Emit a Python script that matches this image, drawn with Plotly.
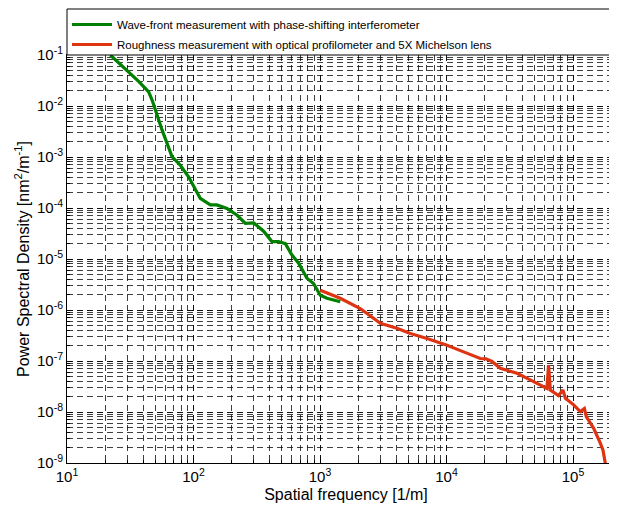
import plotly.graph_objects as go

# Wave-front measurement (phase-shifting interferometer)
wf_freq = [22, 30, 37, 44.2, 47, 56.4, 67.6, 78.7, 91.4, 113, 136, 153,
           184, 221, 257, 299, 358, 417, 471, 532, 600, 678, 789, 889,
           1005, 1135, 1280, 1445]
wf_psd = [1.0e-1, 4.9e-2, 3.0e-2, 1.9e-2, 1.32e-2, 3.4e-3, 1.02e-3,
          6.9e-4, 4.1e-4, 1.55e-4, 1.15e-4, 1.15e-4, 9.8e-5, 7.2e-5,
          5.0e-5, 5.1e-5, 3.5e-5, 2.2e-5, 2.2e-5, 2.0e-5, 1.2e-5, 8.3e-6,
          4.2e-6, 3.3e-6, 1.95e-6, 1.7e-6, 1.55e-6, 1.45e-6]

# Roughness measurement (optical profilometer, 5X Michelson lens)
rg_freq = [1005, 1445, 2080, 2500, 3000, 4055, 5176, 7015, 10090, 13650,
           18490, 20500, 22900, 26600, 36060, 45900, 58600, 62200, 64100,
           66200, 76900, 83200, 87100, 101200, 114300, 123000, 127400,
           145600, 164400, 172600, 179900, 183000]
rg_psd = [2.45e-6, 1.7e-6, 1.07e-6, 7.6e-7, 5.5e-7, 4.4e-7, 3.47e-7,
          2.75e-7, 2.04e-7, 1.51e-7, 1.12e-7, 1.1e-7, 9.8e-8, 7.2e-8,
          5.75e-8, 4.27e-8, 3.16e-8, 2.9e-8, 8.3e-8, 2.7e-8, 2.1e-8,
          2.7e-8, 1.86e-8, 1.38e-8, 1.02e-8, 1.17e-8, 8.1e-9, 4.8e-9,
          2.45e-9, 1.78e-9, 1.0e-9, 7.5e-10]

x_tickvals = [1e1, 1e2, 1e3, 1e4, 1e5]
x_ticktext = ["10<sup>1</sup>", "10<sup>2</sup>", "10<sup>3</sup>",
              "10<sup>4</sup>", "10<sup>5</sup>"]
y_tickvals = [1e-9, 1e-8, 1e-7, 1e-6, 1e-5, 1e-4, 1e-3, 1e-2, 1e-1]
y_ticktext = ["10<sup>-9</sup>", "10<sup>-8</sup>", "10<sup>-7</sup>",
              "10<sup>-6</sup>", "10<sup>-5</sup>", "10<sup>-4</sup>",
              "10<sup>-3</sup>", "10<sup>-2</sup>", "10<sup>-1</sup>"]

wf_name = "Wave-front measurement with phase-shifting interferometer"
rg_name = "Roughness measurement with optical profilometer and 5X Michelson lens"

FONT = "Liberation Sans, Arial, sans-serif"
GRID = "rgba(0,0,0,0.75)"

fig = go.Figure()
fig.add_trace(go.Scatter(x=wf_freq, y=wf_psd, mode="lines", name=wf_name,
                         legendgroup="a",
                         line=dict(color="rgb(0,128,0)", width=3.2)))
fig.add_trace(go.Scatter(x=rg_freq, y=rg_psd, mode="lines", name=rg_name,
                         legendgroup="b",
                         line=dict(color="rgb(222,52,18)", width=3.2)))

axis_common = dict(
    type="log", automargin=False,
    showline=True, linecolor="black", linewidth=1, mirror=True,
    ticks="inside", ticklen=5, tickcolor="black",
    showgrid=True, gridcolor=GRID, gridwidth=1, griddash="6px,4px",
    zeroline=False,
    tickfont=dict(family=FONT, size=15, color="black"),
    minor=dict(dtick="D1", showgrid=True, gridcolor=GRID, gridwidth=1,
               griddash="6px,4px", ticks="inside", ticklen=3,
               tickcolor="black"),
)

fig.update_xaxes(**axis_common, range=[1, 1 + 558 / 126.5], tickmode="array",
                 tickvals=x_tickvals, ticktext=x_ticktext,
                 title=dict(text="Spatial frequency [1/m]", standoff=4,
                            font=dict(family=FONT, size=16, color="black")))
fig.update_yaxes(**axis_common, range=[-9, -1], tickmode="array",
                 tickvals=y_tickvals, ticktext=y_ticktext,
                 title=dict(text="Power Spectral Density [nm<sup>2</sup>/m<sup>-1</sup>]",
                            standoff=3,
                            font=dict(family=FONT, size=16, color="black")))

fig.add_shape(type="rect", xref="paper", yref="paper",
              x0=0, x1=1.02, y0=1.0, y1=1.0 + 46 / 408,
              line=dict(color="black", width=1), fillcolor="white",
              layer="above")

fig.update_layout(
    width=617, height=503,
    margin=dict(l=59, r=0, t=47, b=48, autoexpand=False),
    paper_bgcolor="white", plot_bgcolor="white",
    font=dict(family=FONT, size=12, color="black"),
    showlegend=True,
    legend=dict(x=0.0, y=1.0 + 45 / 408, xanchor="left", yanchor="top",
                bgcolor="rgba(0,0,0,0)", borderwidth=0,
                traceorder="grouped", tracegroupgap=1,
                font=dict(family=FONT, size=11.5, color="black"),
                itemwidth=40),
)

fig.write_html("out.html")
